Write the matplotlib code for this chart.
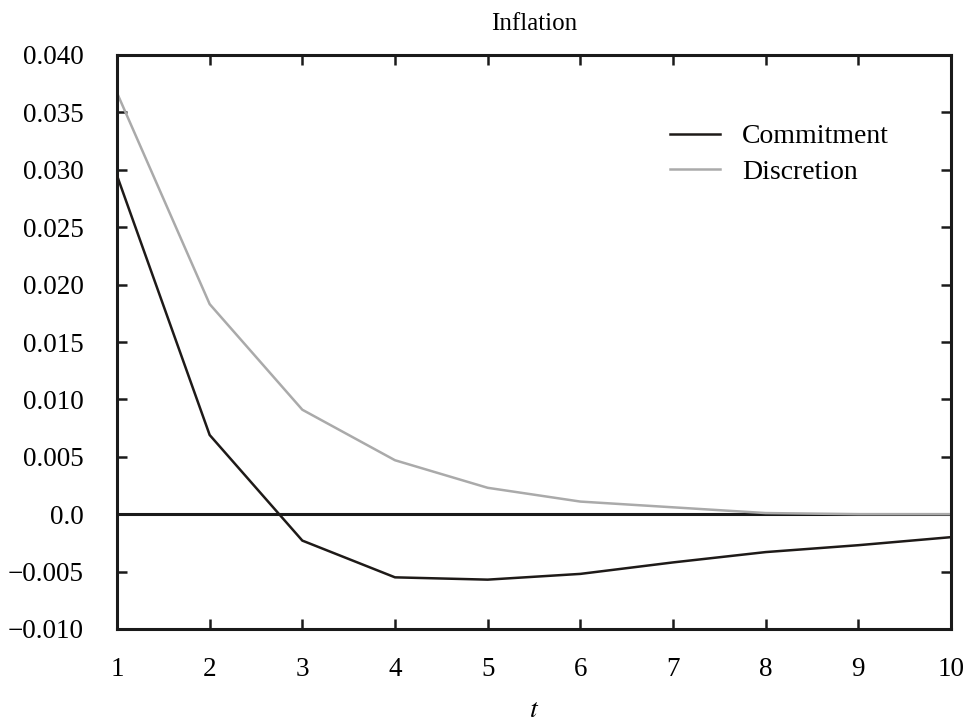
import matplotlib
matplotlib.use("Agg")
import matplotlib.pyplot as plt

t = [1, 2, 3, 4, 5, 6, 7, 8, 9, 10]
commitment = [0.0295, 0.0069, -0.0023, -0.0055, -0.0057, -0.0052, -0.0042, -0.0033, -0.0027, -0.0020]
discretion = [0.0367, 0.0183, 0.0091, 0.0047, 0.0023, 0.0011, 0.0006, 0.0001, 0.0, 0.0]
yticks = [-0.010, -0.005, 0.0, 0.005, 0.010, 0.015, 0.020, 0.025, 0.030, 0.035, 0.040]
ytick_labels = ["\u22120.010", "\u22120.005", "0.0", "0.005", "0.010", "0.015",
                "0.020", "0.025", "0.030", "0.035", "0.040"]

plt.rcParams["font.family"] = ["Liberation Serif", "DejaVu Serif"]
plt.rcParams["mathtext.fontset"] = "stix"

fig = plt.figure(figsize=(9.75, 7.24), dpi=100)
ax = fig.add_axes([117 / 975, 1 - 629 / 724, (951 - 117) / 975, (629 - 55) / 724])

ax.axhline(0, color="#1a1a1a", lw=2.2, zorder=1)
ax.plot(t, discretion, color="#aaaaaa", lw=1.8, label="Discretion", zorder=2)
ax.plot(t, commitment, color="#1e1a18", lw=1.8, label="Commitment", zorder=3)

ax.set_xlim(1, 10)
ax.set_ylim(-0.010, 0.040)
ax.set_xticks(t)
ax.set_yticks(yticks)
ax.set_yticklabels(ytick_labels)
ax.tick_params(direction="in", length=7, width=1.8, labelsize=19.5,
               top=True, right=True, color="#1a1a1a")
ax.tick_params(axis="y", pad=24)
ax.tick_params(axis="x", pad=20)
for s in ax.spines.values():
    s.set_linewidth(2.2)
    s.set_color("#1a1a1a")

ax.set_title("Inflation", fontsize=18, pad=18)
ax.set_xlabel("$t$", fontsize=20, labelpad=12)

h, l = ax.get_legend_handles_labels()
ax.legend(h[::-1], l[::-1], loc="upper left", bbox_to_anchor=(670 / 975, 1 - 124 / 724),
          bbox_transform=fig.transFigure, borderaxespad=0, borderpad=0,
          frameon=False, fontsize=20, handlelength=1.8, handletextpad=0.8,
          labelspacing=0.36)

fig.savefig("out.png", dpi=100)
